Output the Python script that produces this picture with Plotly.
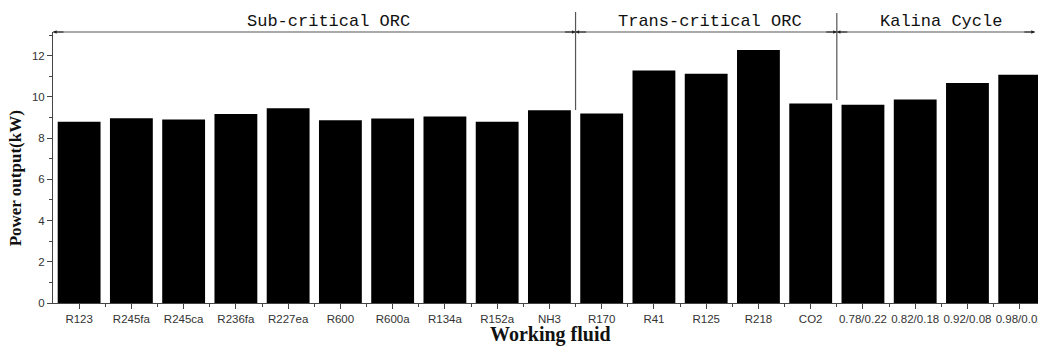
import plotly.graph_objects as go

fluids = ["R123", "R245fa", "R245ca", "R236fa", "R227ea", "R600", "R600a", "R134a",
          "R152a", "NH3", "R170", "R41", "R125", "R218", "CO2",
          "0.78/0.22", "0.82/0.18", "0.92/0.08", "0.98/0.02"]
power_kw = [8.80, 8.97, 8.90, 9.17, 9.45, 8.87, 8.95, 9.05,
            8.80, 9.35, 9.20, 11.28, 11.12, 12.28, 9.68,
            9.62, 9.88, 10.68, 11.08]
groups = ["Sub-critical ORC", "Trans-critical ORC", "Kalina Cycle"]
group_bounds = [(-0.5, 9.5), (9.5, 14.5), (14.5, 18.29)]
group_label_x = [4.78, 12.07, 16.49]

xpos = list(range(len(fluids)))

fig = go.Figure()
fig.add_trace(go.Bar(x=xpos, y=power_kw, width=0.82,
                     marker=dict(color="black", line=dict(width=0))))

axis_col = "#444444"
tick_font = dict(family="Liberation Sans, Arial", size=11.5, color="#333333")

fig.update_layout(
    width=1038, height=358,
    margin=dict(l=53, r=0, t=32, b=55, autoexpand=False),
    plot_bgcolor="white", paper_bgcolor="white",
    showlegend=False,
    xaxis=dict(range=[-0.5, 18.35], tickmode="array", tickvals=xpos, ticktext=fluids,
               automargin=False,
               showgrid=False, zeroline=False, showline=True, linecolor=axis_col, linewidth=1,
               ticks="outside", ticklen=5, tickcolor=axis_col, tickfont=tick_font,
               ticklabeloverflow="allow",
               minor=dict(tickmode="array", tickvals=[i + 0.5 for i in range(18)],
                          ticks="outside", ticklen=3, tickcolor=axis_col)),
    yaxis=dict(range=[0, 13.15], tickvals=[0, 2, 4, 6, 8, 10, 12],
               automargin=False,
               showgrid=False, zeroline=False, showline=True, linecolor=axis_col, linewidth=1,
               ticks="outside", ticklen=5, tickcolor=axis_col, tickfont=tick_font,
               minor=dict(tickmode="array", tickvals=[1, 3, 5, 7, 9, 11, 13],
                          ticks="outside", ticklen=3, tickcolor=axis_col)),
)

line_col = "#555555"
shapes = []
annotations = []
for (x0, x1) in group_bounds:
    shapes.append(dict(type="line", xref="x", yref="paper", x0=x0, x1=x1, y0=1.0, y1=1.0,
                       line=dict(color=line_col, width=1.2)))
    for head, tail in ((x0, 12), (x1, -12)):
        annotations.append(dict(x=head, y=1.0, xref="x", yref="paper", text="",
                                showarrow=True, ax=tail, ay=0, axref="pixel", ayref="pixel",
                                arrowhead=2, arrowsize=0.6, arrowwidth=1.2, arrowcolor="#222222"))
# vertical dividers
shapes.append(dict(type="line", xref="x", yref="paper", x0=9.5, x1=9.5, y0=0.712, y1=1.074,
                   line=dict(color=line_col, width=1.2)))
shapes.append(dict(type="line", xref="x", yref="paper", x0=14.5, x1=14.5, y0=0.749, y1=1.07,
                   line=dict(color=line_col, width=1.2)))

for g, gx in zip(groups, group_label_x):
    annotations.append(dict(x=gx, y=1.04, xref="x", yref="paper", text=g, showarrow=False,
                            xanchor="center", yanchor="middle",
                            font=dict(family="Liberation Mono, Courier New, monospace",
                                      size=17, color="#111111")))

annotations.append(dict(x=0, y=0.46, xref="paper", yref="paper", xshift=-38,
                        text="<b>Power output(kW)</b>", showarrow=False, textangle=-90,
                        xanchor="center", yanchor="middle",
                        font=dict(family="Liberation Serif, Times New Roman, serif",
                                  size=17, color="#111111")))
annotations.append(dict(x=0.5046, y=0, xref="paper", yref="paper", yshift=-31,
                        text="<b>Working fluid</b>", showarrow=False,
                        xanchor="center", yanchor="middle",
                        font=dict(family="Liberation Serif, Times New Roman, serif",
                                  size=20, color="#111111")))

fig.update_layout(shapes=shapes, annotations=annotations)
fig.write_html("out.html", config={"displayModeBar": False},
               post_script="document.body.style.margin='0';document.body.style.overflow='hidden';")
